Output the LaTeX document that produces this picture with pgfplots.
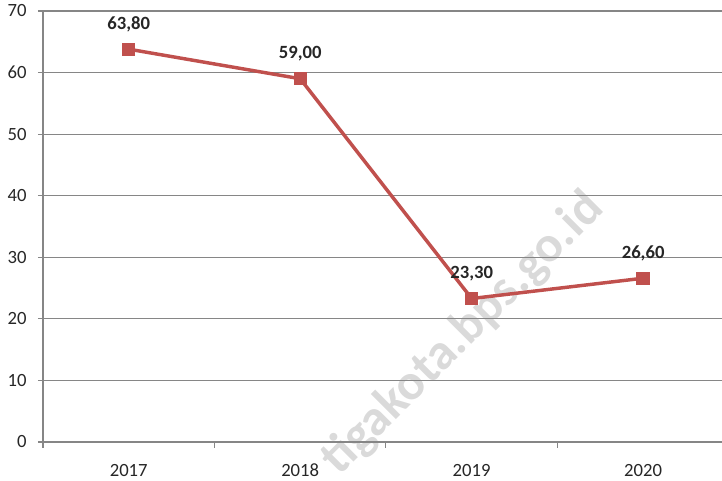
\documentclass[border=0pt]{standalone}
\usepackage{pgfplots}
\pgfplotsset{compat=1.18}
\usepackage{fontspec}
\setmainfont{Carlito}
\definecolor{linered}{HTML}{C0504D}
\definecolor{axgray}{HTML}{868686}
\definecolor{wm}{HTML}{DADADA}
\begin{document}
\begin{tikzpicture}[x=0.75pt,y=0.75pt]
\node[rotate=45,text=wm,font=\fontsize{38}{38}\selectfont\bfseries] at (420,108) {tigakota.bps.go.id};
\begin{axis}[
  at={(0,0)}, anchor=south west,
  scale only axis,
  width=509.25pt, height=323.25pt,
  xmin=-0.5, xmax=3.46,
  ymin=0, ymax=70,
  ytick={0,10,...,70},
  xtick={0,1,2,3},
  xticklabels={2017,2018,2019,2020},
  minor xtick={-0.5,0.5,1.5,2.5},
  axis lines*=left,
  axis line style={axgray, line width=0.8pt},
  tick align=outside,
  major tick length=3.75pt,
  minor tick length=4.5pt,
  xtick style={draw=none},
  minor x tick style={draw=axgray, line width=0.8pt},
  ytick style={draw=axgray, line width=0.8pt},
  ymajorgrids,
  grid style={axgray, line width=0.8pt},
  x axis line style={-},
  y axis line style={-},
  /pgf/number format/assume math mode=true,
  tick label style={font=\fontsize{14}{16}\selectfont, text=black!85},
  xticklabel style={anchor=base, yshift=-22pt},
  yticklabel style={anchor=east, xshift=-5pt},
  clip=false,
  nodes near coords,
  every node near coord/.append style={font=\fontsize{14}{16}\selectfont\bfseries, text=black!85, anchor=base, yshift=15pt},
  point meta=explicit symbolic,
]
\addplot[color=linered, line width=2.6pt, mark=square*, mark size=4.6pt, mark options={fill=linered, draw=linered, line width=0pt}]
  table[meta=label] {
x y label
0 63.8 {63,80}
1 59.0 {59,00}
2 23.3 {23,30}
3 26.6 {26,60}
};
\end{axis}
\pgfresetboundingbox
\useasboundingbox (-43,-39) rectangle (679,442);
\end{tikzpicture}
\end{document}
